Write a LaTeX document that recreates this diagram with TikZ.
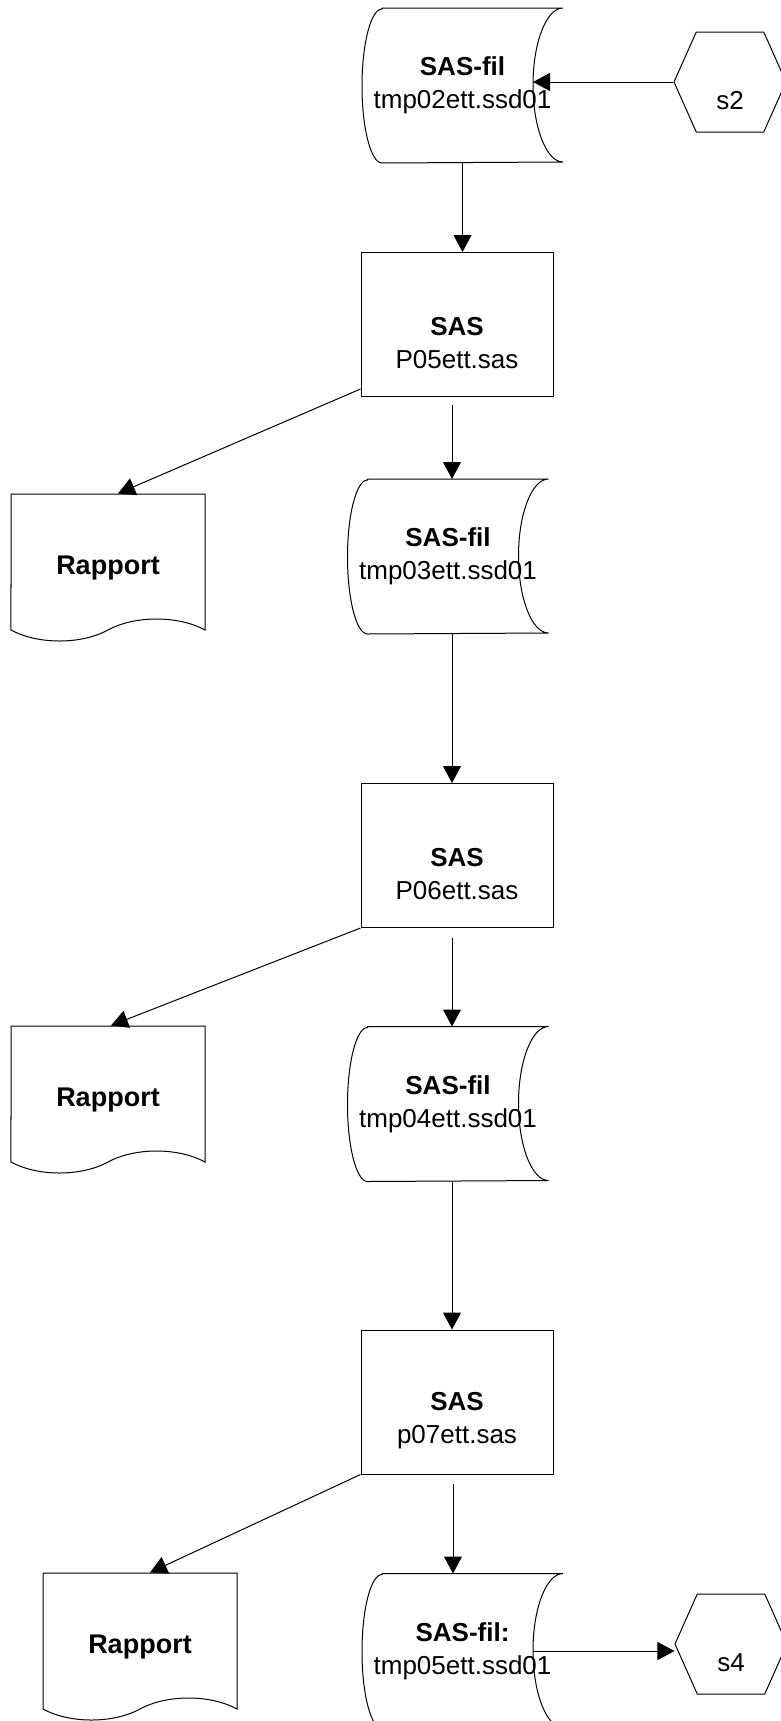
\documentclass[tikz,border=0pt]{standalone}
\usepackage{fontspec}
\setmainfont{Liberation Sans}
\usetikzlibrary{arrows.meta,shapes.symbols}

% outline of a stored-data node (convex left side, open right side)
\newcommand\filoutline[1]{%
  \draw ([xshift=20pt]#1.north west) -- (#1.north east)
    arc[start angle=90, end angle=270, x radius=30pt, y radius=77pt]
    -- ([xshift=20pt]#1.south west)
    arc[start angle=270, end angle=90, x radius=20pt, y radius=77pt] -- cycle;
  \coordinate (#1-in) at ([xshift=-30pt]#1.east);
}

\begin{document}
\begin{tikzpicture}[x=1pt, y=1pt, line width=1pt,
    font=\fontsize{26}{33}\selectfont,
    >={Triangle[length=17pt,width=18pt]},
    fil/.style={minimum width=200pt, minimum height=154pt, inner sep=1pt, align=center},
    prog/.style={draw, rectangle, minimum width=192pt, minimum height=144pt, align=center},
    rapport/.style={draw, tape, tape bend top=none, tape bend bottom=in and out, tape bend height=22pt, minimum width=194pt, minimum height=147pt, text height=35pt, text depth=0pt, font=\fontsize{27}{33}\selectfont\bfseries},
    ext/.style={draw, signal, signal to=west and east, signal pointer angle=132, minimum width=112pt, minimum height=100pt, align=center}]
    \useasboundingbox (0,0) rectangle (780,-1721);

    \node (fil1) [fil] at (462.5, -85.5) {\textbf{SAS-fil}\\tmp02ett.ssd01};
    \filoutline{fil1}
    \node (s2) [ext] at (730, -82) {\strut\\s2};
    \node (sas1) [prog] at (457, -324.5) {\strut\\\textbf{SAS}\\P05ett.sas};
    \node (fil2) [fil] at (448, -556.5) {\textbf{SAS-fil}\\tmp03ett.ssd01};
    \filoutline{fil2}
    \node (rap1) [rapport] at (108, -556.5) {Rapport};

    \node (sas2) [prog] at (457, -855.5) {\strut\\\textbf{SAS}\\P06ett.sas};
    \node (fil3) [fil] at (448, -1104) {\textbf{SAS-fil}\\tmp04ett.ssd01};
    \filoutline{fil3}
    \node (rap2) [rapport] at (108, -1088.5) {Rapport};

    \node (sas3) [prog] at (457, -1402) {\strut\\\textbf{SAS}\\p07ett.sas};
    \node (fil4) [fil] at (462.5, -1651) {\textbf{SAS-fil:}\\tmp05ett.ssd01};
    \filoutline{fil4}
    \node (rap3) [rapport] at (140, -1635.5) {Rapport};
    \node (s4) [ext] at (731, -1644) {\strut\\s4};

    \draw[->] (s2.west) -- (s2.west -| fil1-in);
    \draw[->] (fil1.south) -- (fil1.south |- sas1.north);
    \draw[->] ([yshift=8pt]sas1.south west) -- ([xshift=10pt]rap1.north);
    \draw[->] ([xshift=-5pt,yshift=-8pt]sas1.south) -- ([xshift=-5pt]sas1.south |- fil2.north);
    \draw[->] ([xshift=4pt]fil2.south) -- ([xshift=4pt]fil2.south |- sas2.north);
    \draw[->] (sas2.south west) -- ([xshift=3pt]rap2.north);
    \draw[->] ([xshift=-5pt,yshift=-10pt]sas2.south) -- ([xshift=-5pt]sas2.south |- fil3.north);
    \draw[->] ([xshift=4pt]fil3.south) -- ([xshift=4pt]fil3.south |- sas3.north);
    \draw[->] (sas3.south west) -- ([xshift=10pt]rap3.north);
    \draw[->] ([xshift=-4pt,yshift=-9pt]sas3.south) -- ([xshift=-4pt]sas3.south |- fil4.north);
    \draw[->] (fil4-in) -- (fil4-in -| s4.west);
\end{tikzpicture}
\end{document}
